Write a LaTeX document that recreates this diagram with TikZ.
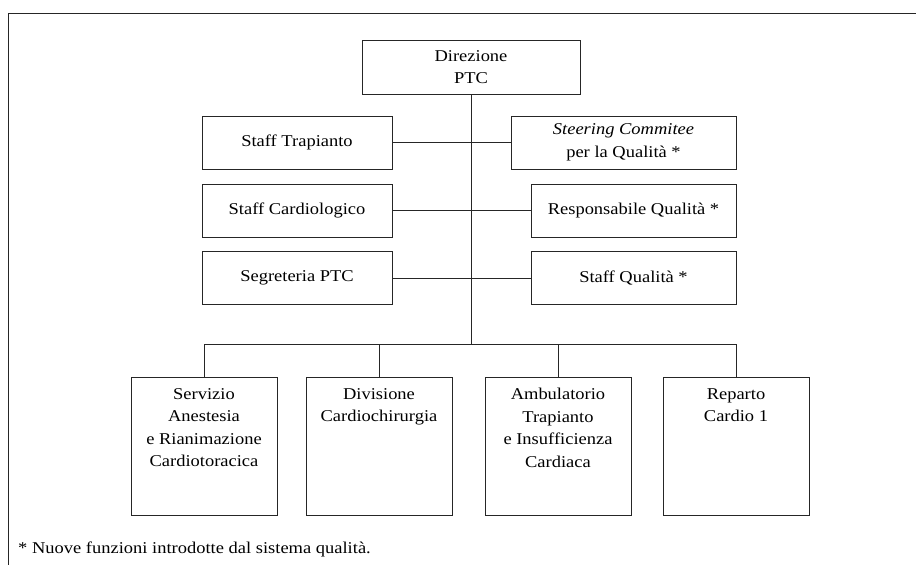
\documentclass[tikz,border=0pt]{standalone}
\usepackage{fontspec}
\setmainfont[FakeStretch=1.12]{Liberation Serif}
\begin{document}
\begin{tikzpicture}[x=1pt,y=-1pt,
  unit/.style={draw=black!85, line width=0.9pt, rectangle, inner sep=0pt,
    align=center, font=\fontsize{16.5}{22.5}\selectfont},
  staffbox/.style={unit, minimum width=190pt, minimum height=53pt},
  qualbox/.style={unit, minimum width=205pt, minimum height=53pt},
  deptbox/.style={unit, anchor=north},
  link/.style={draw=black!85, line width=0.9pt}
]
\useasboundingbox (0,0) rectangle (916,565);

% outer frame (top and left sides only)
\coordinate (frameTR) at (916,13);
\coordinate (frameTL) at (8,13);
\coordinate (frameBL) at (8,565);
\draw[link] (frameTR) -- (frameTL) -- (frameBL);

% head
\node[unit, minimum width=218pt, minimum height=54pt] (dir) at (471,67) {Direzione\\PTC};

% staff units on both sides of the trunk
\node[staffbox] (trap) at (297,142.5) {Staff Trapianto};
\node[staffbox] (card) at (297,210.5) {Staff Cardiologico};
\node[staffbox] (segr) at (297,278) {Segreteria PTC};
\node[unit, minimum width=225pt, minimum height=53pt] (steer) at (623.5,142.5)
  {\textit{Steering Commitee}\\per la Qualità *};
\node[qualbox] (resp) at (633.5,210.5) {Responsabile Qualità *};
\node[qualbox] (squal) at (633.5,278) {Staff Qualità *};

% operating units: text set from the top of each box
\newcommand\depttext[1]{\parbox[c][138pt][t]{146pt}{\centering\vspace*{11pt}#1\par}}
\node[deptbox] (serv) at (204,377) {\depttext{Servizio\\Anestesia\\e Rianimazione\\Cardiotoracica}};
\node[deptbox] (divi) at (379,377) {\depttext{Divisione\\Cardiochirurgia}};
\node[deptbox] (ambu) at (558,377) {\depttext{Ambulatorio\\Trapianto\\e Insufficienza\\Cardiaca}};
\node[deptbox] (repa) at (736,377) {\depttext{Reparto\\Cardio 1}};

% trunk and bus
\coordinate (bus) at (471,344);
\draw[link] (dir.south) -- (bus);
\draw[link] (trap.east) -- (steer.west);
\draw[link] (card.east) -- (resp.west);
\draw[link] (segr.east) -- (squal.west);
\draw[link] (serv.north |- bus) -- (repa.north |- bus);
\foreach \u in {serv,divi,ambu,repa}
  \draw[link] (\u.north |- bus) -- (\u.north);

% footnote
\node[anchor=base west, inner sep=0pt, font=\fontsize{16.5}{18}\selectfont] (note) at (18,553)
  {* Nuove funzioni introdotte dal sistema qualità.};
\end{tikzpicture}
\end{document}
